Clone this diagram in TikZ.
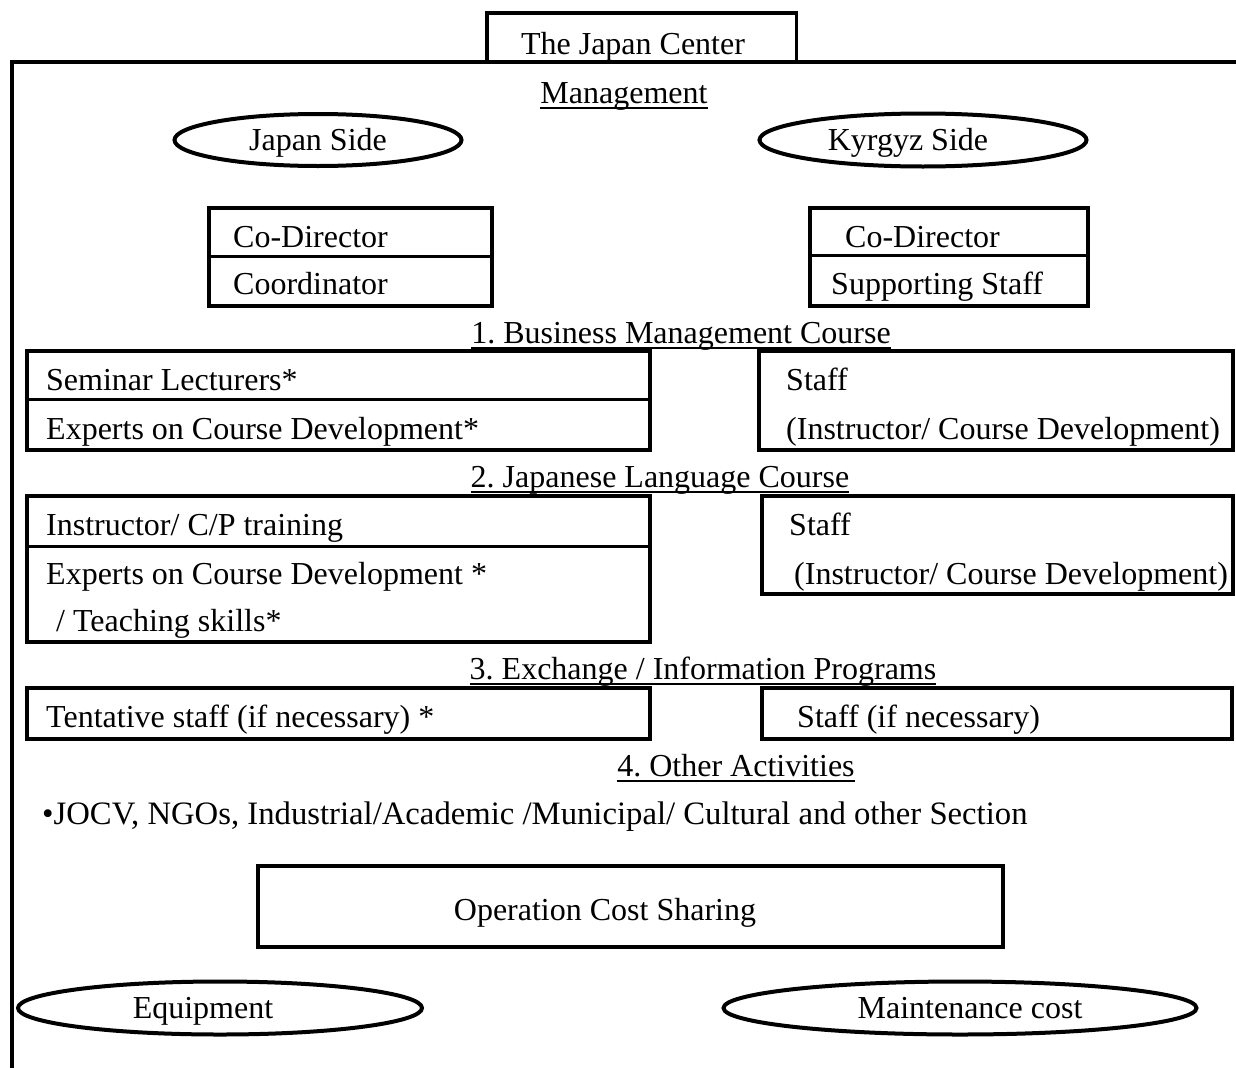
\documentclass[tikz,border=0pt]{standalone}
\usepackage{fontspec}
\setmainfont{Liberation Serif}
\usetikzlibrary{shapes.geometric}
\newcommand\myfs{\fontsize{32}{38}\selectfont}
\frenchspacing
\begin{document}
\begin{tikzpicture}[x=1pt,y=-1pt,
  frame/.style={line width=3.5pt},
  box/.style={draw,line width=3.5pt,inner sep=0pt,anchor=north west},
  oval/.style={draw,ellipse,line width=4pt,inner sep=0pt},
  txt/.style={anchor=base west,inner sep=0pt,font=\myfs},
  ctxt/.style={anchor=base,inner sep=0pt,font=\myfs},
  div/.style={line width=3pt},
  uline/.style={line width=1.6pt}]
\useasboundingbox[fill=white] (0,0) rectangle (1236,1068);
% frame
\coordinate (fr) at (1236,62);
\coordinate (fl) at (10,62);
\coordinate (vt) at (12,62);
\coordinate (vb) at (12,1068);
\draw[frame] (fr) -- (fl);
\draw[frame] (vt) -- (vb);
% The Japan Center
\node[anchor=north west,minimum width=309pt,minimum height=49pt,inner sep=0pt] (jc) at (487,13) {};
\draw[frame] (jc.south west) -- (jc.north west) -- (jc.north east) -- (jc.south east);
\node[ctxt] (jct) at (633,54) {The Japan Center};
% Management
\node[ctxt] (mg) at (624,103) {Management};
\draw[uline] ([yshift=-5pt]mg.base west) -- ([yshift=-5pt]mg.base east);
% sides
\node[oval,minimum width=287pt,minimum height=52pt] (js) at (318,140) {};
\node[ctxt] (jst) at (318,150) {Japan Side};
\node[oval,minimum width=327pt,minimum height=53pt] (ks) at (923,140) {};
\node[ctxt] (kst) at (908,150) {Kyrgyz Side};
% co-director boxes
\node[box,minimum width=283pt,minimum height=98pt] (jbox) at (207,206) {};
\draw[div] ([yshift=-50pt]jbox.north west) -- ([yshift=-50pt]jbox.north east);
\node[txt] (j1) at (233,247) {Co-Director};
\node[txt] (j2) at (233,294) {Coordinator};
\node[box,minimum width=278pt,minimum height=98pt] (kbox) at (808,206) {};
\draw[div] ([yshift=-49pt]kbox.north west) -- ([yshift=-49pt]kbox.north east);
\node[txt] (k1) at (845,247) {Co-Director};
\node[txt] (k2) at (831,294) {Supporting Staff};
% 1. Business Management Course
\node[ctxt] (h1) at (681,343) {1. Business Management Course};
\draw[uline] ([yshift=-5pt]h1.base west) -- ([yshift=-5pt]h1.base east);
\node[box,minimum width=623pt,minimum height=99pt] (b1l) at (25,349) {};
\draw[div] ([yshift=-50pt]b1l.north west) -- ([yshift=-50pt]b1l.north east);
\node[txt] (b1a) at (46,390) {Seminar Lecturers*};
\node[txt] (b1b) at (46,439) {Experts on Course Development*};
\node[box,minimum width=474pt,minimum height=99pt] (b1r) at (757,349) {};
\node[txt] (b1c) at (786,390) {Staff};
\node[txt] (b1d) at (786,439) {(Instructor/ Course Development)};
% 2. Japanese Language Course
\node[ctxt] (h2) at (660,487) {2. Japanese Language Course};
\draw[uline] ([yshift=-5pt]h2.base west) -- ([yshift=-5pt]h2.base east);
\node[box,minimum width=623pt,minimum height=146pt] (b2l) at (25,494) {};
\draw[div] ([yshift=-52pt]b2l.north west) -- ([yshift=-52pt]b2l.north east);
\node[txt] (b2a) at (46,535) {Instructor/ C/P training};
\node[txt] (b2b) at (46,584) {Experts on Course Development *};
\node[txt] (b2c) at (56,631) {/ Teaching skills*};
\node[box,minimum width=471pt,minimum height=98pt] (b2r) at (760,494) {};
\node[txt] (b2d) at (789,535) {Staff};
\node[txt] (b2e) at (794,584) {(Instructor/ Course Development)};
% 3. Exchange / Information Programs
\node[ctxt] (h3) at (703,679) {3. Exchange / Information Programs};
\draw[uline] ([yshift=-5pt]h3.base west) -- ([yshift=-5pt]h3.base east);
\node[box,minimum width=623pt,minimum height=51pt] (b3l) at (25,686) {};
\node[txt] (b3a) at (46,727) {Tentative staff (if necessary) *};
\node[box,minimum width=470pt,minimum height=51pt] (b3r) at (760,686) {};
\node[txt] (b3b) at (797,727) {Staff (if necessary)};
% 4. Other Activities
\node[ctxt] (h4) at (736,776) {4. Other Activities};
\draw[uline] ([yshift=-5pt]h4.base west) -- ([yshift=-5pt]h4.base east);
\node[txt,font=\fontsize{32.7}{38}\selectfont] (oa) at (42,824) {\textbullet JOCV, NGOs, Industrial/Academic /Municipal/ Cultural and other Section};
% Operation cost sharing
\node[box,minimum width=745pt,minimum height=81pt] (ocs) at (256,864) {};
\node[ctxt] (ocst) at (605,920) {Operation Cost Sharing};
% bottom ovals
\node[oval,minimum width=404pt,minimum height=53pt] (eq) at (220,1008) {};
\node[ctxt] (eqt) at (203,1018) {Equipment};
\node[oval,minimum width=473pt,minimum height=53pt] (mc) at (960,1008) {};
\node[ctxt] (mct) at (970,1018) {Maintenance cost};
\end{tikzpicture}
\end{document}
